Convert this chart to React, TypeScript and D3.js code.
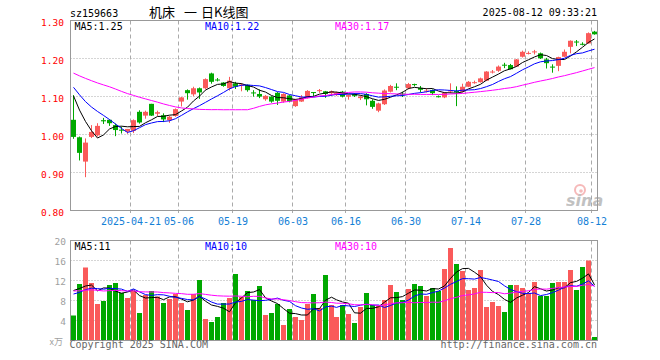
import React from "react";
import * as d3 from "d3";

// ---------- data ----------
const dates: string[] = [
  "04-07","04-08","04-09","04-10","04-11","04-14","04-15","04-16","04-17","04-18",
  "04-21","04-22","04-23","04-24","04-25","04-28","04-29","04-30","05-06","05-07",
  "05-08","05-09","05-12","05-13","05-14","05-15","05-16","05-19","05-20","05-21",
  "05-22","05-23","05-26","05-27","05-28","05-29","05-30","06-03","06-04","06-05",
  "06-06","06-09","06-10","06-11","06-12","06-13","06-16","06-17","06-18","06-19",
  "06-20","06-23","06-24","06-25","06-26","06-27","06-30","07-01","07-02","07-03",
  "07-04","07-07","07-08","07-09","07-10","07-11","07-14","07-15","07-16","07-17",
  "07-18","07-21","07-22","07-23","07-24","07-25","07-28","07-29","07-30","07-31",
  "08-01","08-04","08-05","08-06","08-07","08-08","08-11","08-12",
];

const opens: number[] = [
  1.040,0.994,0.930,0.995,0.999,1.039,1.040,1.026,1.014,1.009,
  1.011,1.061,1.051,1.082,1.056,1.052,1.039,1.050,1.088,1.118,
  1.107,1.123,1.123,1.162,1.146,1.138,1.123,1.136,1.131,1.132,
  1.112,1.108,1.094,1.101,1.111,1.088,1.104,1.076,1.088,1.097,
  1.113,1.116,1.115,1.110,1.105,1.114,1.101,1.108,1.097,1.108,
  1.090,1.064,1.081,1.114,1.127,1.109,1.123,1.134,1.124,1.115,
  1.118,1.102,1.099,1.115,1.116,1.114,1.127,1.138,1.139,1.143,
  1.166,1.169,1.185,1.184,1.180,1.206,1.214,1.218,1.215,1.199,
  1.180,1.182,1.206,1.232,1.246,1.240,1.241,1.272,
];
const highs: number[] = [
  1.105,0.996,0.991,1.026,1.031,1.045,1.041,1.030,1.022,1.016,
  1.041,1.065,1.064,1.082,1.064,1.057,1.050,1.070,1.100,1.120,
  1.127,1.125,1.149,1.164,1.150,1.139,1.153,1.140,1.136,1.133,
  1.118,1.120,1.105,1.102,1.113,1.110,1.105,1.095,1.105,1.118,
  1.113,1.121,1.116,1.117,1.114,1.116,1.106,1.110,1.104,1.110,
  1.094,1.085,1.120,1.132,1.136,1.114,1.137,1.135,1.129,1.123,
  1.120,1.104,1.113,1.136,1.128,1.135,1.142,1.143,1.151,1.168,
  1.171,1.183,1.190,1.187,1.200,1.222,1.220,1.224,1.217,1.203,
  1.186,1.206,1.225,1.249,1.250,1.244,1.270,1.274,
];
const lows: number[] = [
  0.990,0.933,0.889,0.992,0.996,1.029,1.024,0.997,1.004,1.003,
  1.005,1.030,1.043,1.050,1.050,1.034,1.032,1.048,1.075,1.093,
  1.102,1.095,1.120,1.135,1.141,1.127,1.117,1.121,1.115,1.114,
  1.101,1.097,1.090,1.085,1.079,1.085,1.086,1.074,1.087,1.096,
  1.100,1.111,1.098,1.103,1.103,1.099,1.093,1.100,1.092,1.078,
  1.069,1.060,1.079,1.112,1.118,1.100,1.120,1.128,1.112,1.112,
  1.105,1.099,1.097,1.110,1.076,1.112,1.126,1.135,1.138,1.142,
  1.162,1.166,1.176,1.173,1.179,1.204,1.212,1.212,1.200,1.175,
  1.164,1.168,1.205,1.215,1.234,1.236,1.240,1.264,
];
const closes: number[] = [
  0.995,0.953,0.980,1.008,1.024,1.036,1.031,1.013,1.012,1.016,
  1.039,1.033,1.061,1.051,1.060,1.041,1.048,1.068,1.099,1.110,
  1.123,1.112,1.147,1.140,1.144,1.129,1.143,1.127,1.133,1.118,
  1.110,1.101,1.103,1.088,1.090,1.108,1.088,1.094,1.099,1.116,
  1.111,1.118,1.108,1.115,1.112,1.101,1.105,1.103,1.101,1.094,
  1.074,1.083,1.117,1.129,1.125,1.107,1.134,1.132,1.119,1.117,
  1.110,1.100,1.111,1.117,1.112,1.127,1.140,1.139,1.149,1.167,
  1.167,1.180,1.183,1.173,1.199,1.219,1.216,1.220,1.202,1.189,
  1.178,1.205,1.219,1.248,1.244,1.239,1.268,1.265,
];
// volumes (x万)
const volumes: number[] = [
  4.9,11.2,14.5,11.4,7.2,7.8,11.0,11.4,9.4,8.4,
  9.8,5.4,9.0,9.8,8.7,7.4,8.2,9.2,7.4,6.0,
  9.2,12.0,4.2,3.6,4.6,7.4,8.4,13.2,8.6,9.8,
  8.0,10.8,5.0,5.4,7.2,3.0,6.2,4.6,4.0,7.2,
  9.2,6.4,13.0,7.0,4.6,7.0,5.2,3.4,6.6,9.4,
  7.0,6.8,8.0,11.0,9.6,8.0,10.2,11.2,10.8,8.8,
  10.4,9.8,14.2,18.4,15.2,13.8,10.0,10.4,14.0,6.6,
  7.6,6.8,5.6,11.0,11.0,10.4,9.4,11.6,8.8,8.8,
  11.4,11.6,11.6,14.0,10.0,14.6,15.9,0.6,
];
// estimated closes / volumes of the 29 sessions before the first candle (only feed the moving averages)
const priorCloses: number[] = [
  1.17,1.18,1.19,1.20,1.19,1.18,1.19,1.20,1.19,1.18,
  1.18,1.19,1.18,1.19,1.18,1.17,1.18,1.18,1.16,1.15,
  1.15,1.16,1.15,1.14,1.14,1.14,1.13,1.13,1.12,
];
const priorVolumes: number[] = [
  10,11,9,10,12,9,10,11,10,9,
  11,10,10,9,11,10,12,9,10,9,
  8,9,8.5,8,9,9.2,12.0,10.4,13.0,
];

const priceTicks: number[] = [1.3, 1.2, 1.1, 1.0, 0.9, 0.8];
const volTicks: number[] = [20, 16, 12, 8, 4];
const xTickDates: string[] = ["04-21","05-06","05-19","06-03","06-16","06-30","07-14","07-28","08-12"];
const xTickLabels: string[] = ["2025-04-21","05-06","05-19","06-03","06-16","06-30","07-14","07-28","08-12"];
const maPeriods: number[] = [5, 10, 30];
const maColors: string[] = ["#000000", "#0000ff", "#ff00ff"];

// ---------- helpers ----------
function movingAvg(series: number[], prior: number[], n: number): number[] {
  const all = prior.concat(series);
  const off = prior.length;
  return series.map((_, i) => {
    const end = off + i;
    const start = Math.max(0, end - n + 1);
    return d3.mean(all.slice(start, end + 1)) as number;
  });
}
const trunc2 = (v: number) => (Math.floor(v * 100 + 1e-9) / 100).toFixed(2);

const RED = "#fa5a5a";
const GREEN = "#00a800";
const MONO = "'DejaVu Sans Mono', 'Liberation Mono', monospace";

export default function App() {
  const N = closes.length;
  const L = 70.5, R = 597.5;
  const x = d3.scaleLinear().domain([0, N - 1]).range([71, 592]);
  const yP = d3.scaleLinear().domain([0.8, 1.3]).range([211, 21]);
  const yV = d3.scaleLinear().domain([0, 20]).range([340, 240]);

  const priceMA = maPeriods.map((p) => movingAvg(closes, priorCloses, p));
  const volMA = maPeriods.map((p) => movingAvg(volumes, priorVolumes, p));

  const lineP = d3.line<number>().x((_, i) => Math.round(x(i)) + 2.5).y((d) => yP(d));
  const lineV = d3.line<number>().x((_, i) => Math.round(x(i)) + 2.5).y((d) => yV(d));

  const isUp = (i: number) => closes[i] >= opens[i];
  const tickIdx = xTickDates.map((d) => dates.indexOf(d));

  const priceLegend = maPeriods.map((p, k) => `MA${p}:${trunc2(priceMA[k][N - 1])}`);
  const volLegend = maPeriods.map((p, k) => `MA${p}:${Math.floor(volMA[k][N - 1])}`);
  const legendX = [74.5, 205, 335];

  return (
    <svg width={660} height={360} style={{ position: "absolute", left: 0, top: 0, background: "#fff" }}
      xmlns="http://www.w3.org/2000/svg">
      <rect x={0} y={0} width={660} height={360} fill="#fff" />
      {/* header */}
      <text x={70} y={16.5} fontFamily={MONO} fontSize={10} fill="#000">sz159663</text>
      <text y={16.5} fontFamily="'Noto Sans CJK SC', sans-serif" fontSize={13} fill="#000">
        <tspan x={149}>机床</tspan>
        <tspan x={184}>一</tspan>
        <tspan x={201}>日K线图</tspan>
      </text>
      <text x={597} y={16} fontFamily={MONO} fontSize={10} fill="#000" textAnchor="end">2025-08-12 09:33:21</text>

      {/* price grid */}
      {priceTicks.slice(1, -1).map((v) => (
        <line key={"pg" + v} x1={L} x2={R} y1={yP(v) - 0.5} y2={yP(v) - 0.5} stroke="#aaa" strokeDasharray="1,2" />
      ))}
      {tickIdx.map((i, k) => (
        <g key={"vg" + k}>
          <line x1={Math.round(x(i)) - 0.5} x2={Math.round(x(i)) - 0.5} y1={20.5} y2={213} stroke="#aaa" strokeDasharray="4,3" />
          <line x1={Math.round(x(i)) - 0.5} x2={Math.round(x(i)) - 0.5} y1={240.5} y2={340.5} stroke="#aaa" strokeDasharray="4,3" />
        </g>
      ))}
      {volTicks.slice(1).map((v) => (
        <line key={"vgl" + v} x1={L} x2={R} y1={yV(v) + 0.5} y2={yV(v) + 0.5} stroke="#aaa" strokeDasharray="1,2" />
      ))}

      {/* watermark */}
      <g opacity={0.55}>
        <circle cx={580} cy={190} r={5} fill="none" stroke="#f08080" strokeWidth={2} />
        <circle cx={581} cy={191} r={1.8} fill="#f08080" />
        <text x={566} y={206} fontFamily="'DejaVu Sans', sans-serif" fontStyle="italic" fontWeight="bold" fontSize={16} fill="#909090">sina</text>
      </g>

      {/* frames */}
      <rect x={L} y={20.5} width={R - L} height={190} fill="none" stroke="#999" />
      <rect x={L} y={240.5} width={R - L} height={100} fill="none" stroke="#999" />

      {/* price labels */}
      {priceTicks.map((v) => (
        <text key={"pl" + v} x={64} y={yP(v) + 4.5} fontFamily={MONO} fontSize={9.5} fill="#ff0000" textAnchor="end">
          {v.toFixed(2)}
        </text>
      ))}
      {/* date labels */}
      {tickIdx.map((i, k) => (
        <text key={"dl" + k} x={Math.round(x(i))} y={225} fontFamily={MONO} fontSize={10} fill="#1480d6" textAnchor="middle">
          {xTickLabels[k]}
        </text>
      ))}
      {/* volume labels */}
      {volTicks.map((v) => (
        <text key={"vl" + v} x={66} y={yV(v) + 4.5} fontFamily={MONO} fontSize={9.5} fill="#a0a0a0" textAnchor="end">{v}</text>
      ))}
      <text x={63} y={345} fontFamily="'Noto Sans CJK SC', sans-serif" fontSize={9} fill="#a0a0a0" textAnchor="end">x万</text>

      {/* candles */}
      {closes.map((c, i) => {
        const xi = Math.round(x(i));
        const col = isUp(i) ? RED : GREEN;
        const top = yP(Math.max(opens[i], c));
        const bot = yP(Math.min(opens[i], c));
        return (
          <g key={"c" + i}>
            <rect x={xi + 2} y={yP(highs[i])} width={1} height={Math.max(1, yP(lows[i]) - yP(highs[i]))} fill={col} />
            <rect x={xi} y={top} width={5} height={Math.max(1, bot - top)} fill={col} />
          </g>
        );
      })}
      {/* price MAs */}
      {priceMA.map((ma, k) => (
        <path key={"pm" + k} d={lineP(ma) || ""} fill="none" stroke={maColors[k]} strokeWidth={1} />
      ))}

      {/* volume bars */}
      {volumes.map((v, i) => (
        <rect key={"v" + i} x={Math.round(x(i))} y={yV(v)} width={5} height={340 - yV(v)} fill={isUp(i) ? RED : GREEN} />
      ))}
      {volMA.map((ma, k) => (
        <path key={"vm" + k} d={lineV(ma) || ""} fill="none" stroke={maColors[k]} strokeWidth={1} />
      ))}

      {/* legends */}
      {priceLegend.map((t, k) => (
        <text key={"lg" + k} x={legendX[k]} y={29.5} fontFamily={MONO} fontSize={10} fill={maColors[k]}>{t}</text>
      ))}
      {volLegend.map((t, k) => (
        <text key={"vlg" + k} x={legendX[k]} y={250} fontFamily={MONO} fontSize={10} fill={maColors[k]}>{t}</text>
      ))}

      {/* footer */}
      <text x={69.5} y={348} fontFamily={MONO} fontSize={10} fill="#666">Copyright 2025 SINA.COM</text>
      <text x={597} y={348} fontFamily={MONO} fontSize={10} fill="#666" textAnchor="end">http://finance.sina.com.cn</text>
    </svg>
  );
}
